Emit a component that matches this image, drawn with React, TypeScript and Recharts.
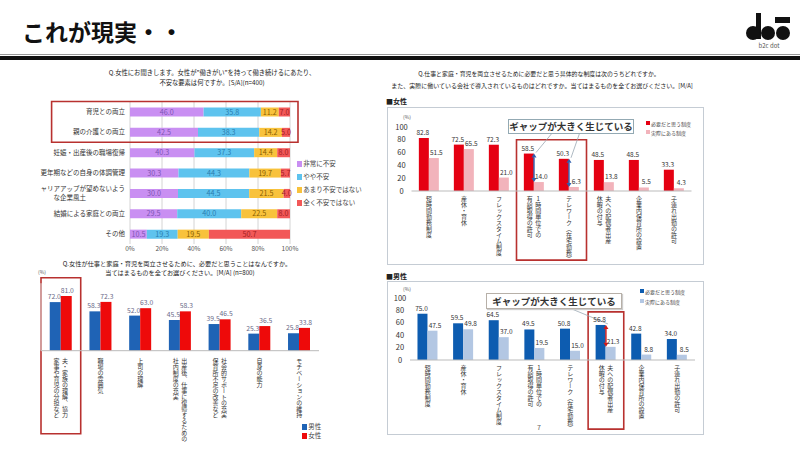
import React from "react";
import {
  BarChart,
  Bar,
  XAxis,
  YAxis,
  CartesianGrid,
  LabelList,
  ReferenceArea,
  ReferenceLine,
} from "recharts";

const FONT = '"Noto Sans CJK JP", "Noto Sans", sans-serif';

// top left: worries about continuing to work
const worryItems = [
  "育児との両立",
  "親の介護との両立",
  "妊娠・出産後の職場復帰",
  "更年期などの自身の体調管理",
  "女性のキャリアアップが望めないよう\nな企業風土",
  "結婚による家庭との両立",
  "その他",
];
const veryWorried = [46.0, 42.5, 40.3, 30.3, 30.0, 29.5, 10.5];
const somewhatWorried = [35.8, 38.3, 37.3, 44.3, 44.5, 40.0, 19.3];
const notVeryWorried = [11.2, 14.2, 14.4, 19.7, 21.5, 22.5, 19.5];
const notWorried = [7.0, 5.0, 8.0, 5.7, 4.0, 8.0, 50.7];
const worryLevels = ["非常に不安", "やや不安", "あまり不安ではない", "全く不安ではない"];
const pctTicks = [0, 20, 40, 60, 80, 100];

// bottom left: what is needed
const needItems = [
  "夫・家族の理解、協力\n家事や育児の分担など",
  "職場の雰囲気",
  "上司の理解",
  "出産後、仕事に復帰するための\n社内制度の充実",
  "社会的サポートの充実\n保育所不足の改善など",
  "自身の能力",
  "モチベーションの維持",
];
const needMale = [72.0, 58.3, 52.0, 45.5, 39.5, 25.3, 25.8];
const needFemale = [81.0, 72.3, 63.0, 58.3, 46.5, 36.5, 33.8];
const genders = ["男性", "女性"];

// right: systems wanted vs. actually available
const systems = [
  "短時間勤務制度",
  "産休・育休",
  "フレックスタイム制度",
  "1時間単位での\n有給取得の許可",
  "テレワーク（在宅勤務）",
  "夫への配偶者出産\n休暇の付与",
  "企業内保育所の設置",
  "子連れ出勤の許可",
];
const femaleNeeded = [82.8, 72.5, 72.3, 58.5, 50.3, 48.5, 48.5, 33.3];
const femaleActual = [51.5, 65.5, 21.0, 14.0, 6.3, 13.8, 5.5, 4.3];
const maleNeeded = [75.0, 59.5, 64.5, 49.5, 50.8, 56.8, 42.8, 34.0];
const maleActual = [47.5, 49.8, 37.0, 19.5, 15.0, 21.3, 8.8, 8.5];
const systemSeries = ["必要だと思う制度", "実際にある制度"];
const gapText = "ギャップが大きく生じている";

const fmt = (v: any) => Number(v).toFixed(1);

const RowTick = (p: any) => {
  const { x, y, payload } = p;
  const fs = 6.5;
  const lines = String(payload.value).split("\n");
  if (lines.length === 1) {
    return (
      <text x={x} y={y} dy={fs * 0.35} textAnchor="end" fontSize={fs} fill="#333" fontFamily={FONT}>
        {lines[0]}
      </text>
    );
  }
  const w = Math.max(...lines.map((l) => l.length)) * fs;
  return (
    <g>
      {lines.map((l, i) => (
        <text
          key={i}
          x={x - w / 2}
          y={y + (i - (lines.length - 1) / 2) * 9}
          dy={fs * 0.35}
          textAnchor="middle"
          fontSize={fs}
          fill="#333"
          fontFamily={FONT}
        >
          {l}
        </text>
      ))}
    </g>
  );
};

const VTick = (p: any) => {
  const { x, y, payload } = p;
  const lines = String(payload.value).split("\n");
  const col = 8.5;
  return (
    <g>
      {lines.map((l, i) => (
        <text
          key={i}
          x={x + ((lines.length - 1) / 2 - i) * col}
          y={y}
          fontSize={6}
          fill="#333"
          fontFamily={FONT}
          style={{ writingMode: "vertical-rl", textOrientation: "upright" } as any}
        >
          {l}
        </text>
      ))}
    </g>
  );
};

const NumTick = (p: any) => (
  <text x={p.x - 2} y={p.y} dy={2.5} textAnchor="middle" fontSize={7.5} fill="#333" fontFamily={FONT}>
    {p.payload.value}
  </text>
);

// value label above a bar, nudged sideways so neighbours do not collide
const topLabel = (shift: number, color = "#333", size = 6.5) => (p: any) => {
  const { x, y, width, value } = p;
  return (
    <text x={x + width / 2 + shift} y={y - 3} textAnchor="middle" fontSize={size} fill={color} fontFamily={FONT}>
      {fmt(value)}
    </text>
  );
};

// double headed arrow between two values, optional connector from the callout
const gapArrow = (color: string, anchor?: [number, number]) => (p: any) => {
  const { x1, y1, x2, y2 } = p;
  const h = 4;
  return (
    <g>
      {anchor && (
        <line x1={anchor[0]} y1={anchor[1]} x2={x1 + 2} y2={y1 - 1} stroke="#9aa8b4" strokeWidth={0.8} />
      )}
      <line x1={x1} y1={y1 + h} x2={x2} y2={y2 - h} stroke={color} strokeWidth={1.4} />
      <polygon points={`${x1 - 2.5},${y1 + h} ${x1 + 2.5},${y1 + h} ${x1},${y1}`} fill={color} />
      <polygon points={`${x2 - 2.5},${y2 - h} ${x2 + 2.5},${y2 - h} ${x2},${y2}`} fill={color} />
    </g>
  );
};

const Txt = ({ x, y, size = 6.5, center = false, weight = 400, color = "#222", children }: any) => (
  <div
    style={{
      position: "absolute",
      left: x,
      top: y - size * 0.7,
      fontSize: size,
      lineHeight: `${size * 1.4}px`,
      fontWeight: weight,
      color,
      whiteSpace: "nowrap",
      transform: center ? "translateX(-50%)" : undefined,
    }}
  >
    {children}
  </div>
);

const Key = ({ x, y, color, label, size = 6 }: any) => (
  <div
    style={{
      position: "absolute",
      left: x,
      top: y - size * 0.7,
      fontSize: size,
      lineHeight: `${size * 1.4}px`,
      color: "#444",
      whiteSpace: "nowrap",
      display: "flex",
      alignItems: "center",
    }}
  >
    <span style={{ display: "inline-block", width: size * 0.8, height: size * 0.8, background: color, marginRight: 1 }} />
    {label}
  </div>
);

const redBox = { fill: "none", stroke: "#b8312f", strokeWidth: 1.6, fillOpacity: 0 };

export default function App() {
  const worryData = worryItems.map((name, i) => ({
    name,
    a: veryWorried[i],
    b: somewhatWorried[i],
    c: notVeryWorried[i],
    d: notWorried[i],
  }));
  const needData = needItems.map((name, i) => ({ name, m: needMale[i], f: needFemale[i] }));
  const femaleData = systems.map((name, i) => ({ name, need: femaleNeeded[i], actual: femaleActual[i] }));
  const maleData = systems.map((name, i) => ({ name, need: maleNeeded[i], actual: maleActual[i] }));

  const worryColors = ["#c98ff2", "#5ec3ee", "#f8c23c", "#f25858"];
  const worryLabel = ["#7d55b5", "#2a7eb0", "#8a5e00", "#a52020"];

  return (
    <div
      style={{
        position: "absolute",
        left: 0,
        top: 0,
        width: 800,
        height: 450,
        background: "#fff",
        fontFamily: FONT,
        overflow: "hidden",
      }}
    >
      {/* header */}
      <div style={{ position: "absolute", left: 22, top: 16, fontSize: 23, fontWeight: 700, color: "#111", lineHeight: "30px" }}>
        これが現実・・
      </div>
      <svg style={{ position: "absolute", left: 742, top: 8 }} width={52} height={44}>
        <rect x={14} y={5} width={5} height={26} fill="#111" />
        <circle cx={11} cy={25} r={7} fill="#111" />
        <circle cx={26} cy={25} r={7} fill="#111" />
        <rect x={33} y={9} width={15} height={6} fill="#111" />
        <circle cx={41} cy={25} r={7} fill="#111" />
        <text x={27} y={40} fontSize={6} textAnchor="middle" fill="#555" fontFamily={FONT}>
          b2c dot
        </text>
      </svg>
      <div style={{ position: "absolute", left: 0, top: 54, width: 800, height: 1, background: "#999" }} />
      <div style={{ position: "absolute", left: 0, top: 56, width: 800, height: 4, background: "#111" }} />

      {/* top left */}
      <Txt x={212} y={73} center size={6.3}>Q.女性にお聞きします。女性が”働きがい”を持って働き続けるにあたり、</Txt>
      <Txt x={212} y={83} center size={6.3}>不安な要素は何ですか。[S/A](n=400)</Txt>
      <div style={{ position: "absolute", left: 40, top: 95 }}>
        <BarChart
          layout="vertical"
          width={300}
          height={165}
          data={worryData}
          margin={{ top: 6.5, right: 50, bottom: 2, left: 0 }}
          barSize={9}
        >
          <CartesianGrid horizontal={false} stroke="#d4d4d4" />
          <XAxis
            type="number"
            domain={[0, 100]}
            ticks={pctTicks}
            interval={0}
            tickFormatter={(v) => `${v}%`}
            axisLine={false}
            tickLine={false}
            tickSize={0}
            tickMargin={2}
            height={14}
            tick={{ fontSize: 6.5, fill: "#555", fontFamily: FONT }}
          />
          <YAxis
            type="category"
            dataKey="name"
            width={90}
            axisLine={false}
            tickLine={false}
            tickSize={0}
            tickMargin={5}
            tick={RowTick}
            interval={0}
          />
          {(["a", "b", "c", "d"] as const).map((k, i) => (
            <Bar key={k} dataKey={k} stackId="s" fill={worryColors[i]} isAnimationActive={false}>
              <LabelList dataKey={k} position="center" formatter={fmt} fontSize={7.2} fill={worryLabel[i]} fontFamily={FONT} />
            </Bar>
          ))}
          <ReferenceArea
            y1={worryItems[0]}
            y2={worryItems[1]}
            x1={-49}
            x2={105}
            ifOverflow="visible"
            {...redBox}
          />
        </BarChart>
      </div>
      {worryLevels.map((l, i) => (
        <Key key={l} x={297} y={164 + i * 13} color={worryColors[i]} label={l} size={6.5} />
      ))}

      {/* bottom left */}
      <Txt x={177} y={264} center size={6.2}>Q.女性が仕事と家庭・育児を両立させるために、必要だと思うことはなんですか。</Txt>
      <Txt x={180} y={273} center size={6.2}>当てはまるものを全てお選びください。[M/A] (n=800)</Txt>
      <Txt x={38} y={271} size={5} color="#555">(%)</Txt>
      <div style={{ position: "absolute", left: 36, top: 270 }}>
        <BarChart
          width={300}
          height={175}
          data={needData}
          margin={{ top: 13.2, right: 17, bottom: 0, left: 0 }}
          barCategoryGap="22%"
          barGap={0}
        >
          <XAxis
            dataKey="name"
            axisLine={{ stroke: "#bbb" }}
            tickLine={false}
            tickSize={0}
            tickMargin={7}
            height={94.3}
            interval={0}
            tick={VTick}
          />
          <YAxis domain={[0, 100]} width={5} tick={false} tickLine={false} axisLine={{ stroke: "#ddd" }} />
          <Bar dataKey="m" fill="#1f63b5" isAnimationActive={false}>
            <LabelList dataKey="m" content={topLabel(-1, "#6a6a88", 6.8)} />
          </Bar>
          <Bar dataKey="f" fill="#ee0a0a" isAnimationActive={false}>
            <LabelList dataKey="f" content={topLabel(1, "#6a6a88", 6.8)} />
          </Bar>
          <ReferenceArea x1={needItems[0]} x2={needItems[0]} y1={-123} y2={108} ifOverflow="visible" {...redBox} />
        </BarChart>
      </div>
      <Key x={302} y={427} color="#1f63b5" label={genders[0]} size={6.5} />
      <Key x={302} y={436} color="#ee0a0a" label={genders[1]} size={6.5} />

      {/* top right: women */}
      <Txt x={539} y={74} center size={5.9}>Q.仕事と家庭・育児を両立させるために必要だと思う具体的な制度は次のうちどれですか。</Txt>
      <Txt x={542} y={86} center size={6}>また、実際に働いている会社で導入されているものはどれですか。当てはまるものを全てお選びください。[M/A]</Txt>
      <Txt x={386} y={102} size={7} weight={700}>■女性</Txt>
      <div style={{ position: "absolute", left: 387, top: 107, width: 315, height: 156, border: "1px solid #c5ccd4" }} />
      <Txt x={403} y={116} size={5} color="#555">(%)</Txt>
      <div style={{ position: "absolute", left: 385, top: 112 }}>
        <BarChart
          width={315}
          height={150}
          data={femaleData}
          margin={{ top: 15, right: 8.5, bottom: 0, left: 0 }}
          barCategoryGap="21%"
          barGap={0}
        >
          <XAxis
            dataKey="name"
            axisLine={{ stroke: "#bbb" }}
            tickLine={false}
            tickSize={0}
            tickMargin={5}
            height={71}
            interval={0}
            tick={VTick}
          />
          <YAxis domain={[0, 100]} ticks={pctTicks} interval={0} width={26.5} axisLine={false} tickLine={false} tick={NumTick} />
          <Bar dataKey="need" fill="#e50012" isAnimationActive={false}>
            <LabelList dataKey="need" content={topLabel(-1)} />
          </Bar>
          <Bar dataKey="actual" fill="#f2b3bb" isAnimationActive={false}>
            <LabelList dataKey="actual" content={topLabel(2.5)} />
          </Bar>
          <ReferenceArea x1={systems[3]} x2={systems[4]} y1={-108} y2={80} ifOverflow="visible" {...redBox} />
          <ReferenceLine
            segment={[
              { x: systems[3], y: femaleNeeded[3] },
              { x: systems[3], y: femaleActual[3] },
            ]}
            shape={gapArrow("#2f5fae", [168, 20])}
          />
          <ReferenceLine
            segment={[
              { x: systems[4], y: femaleNeeded[4] },
              { x: systems[4], y: femaleActual[4] },
            ]}
            shape={gapArrow("#2f5fae", [195, 20])}
          />
        </BarChart>
      </div>
      <div
        style={{
          position: "absolute",
          left: 508,
          top: 119,
          width: 124,
          height: 13,
          border: "1px solid #93a9b3",
          background: "#fff",
          fontSize: 9.5,
          fontWeight: 700,
          color: "#333",
          lineHeight: "13px",
          textAlign: "center",
        }}
      >
        {gapText}
      </div>
      <Key x={646} y={123} color="#e50012" label={systemSeries[0]} size={5} />
      <Key x={646} y={132} color="#f2b3bb" label={systemSeries[1]} size={5} />

      {/* bottom right: men */}
      <Txt x={386} y={277} size={7} weight={700}>■男性</Txt>
      <div style={{ position: "absolute", left: 387, top: 281, width: 315, height: 152, border: "1px solid #c5ccd4" }} />
      <Txt x={403} y={288} size={5} color="#555">(%)</Txt>
      <div style={{ position: "absolute", left: 385, top: 284 }}>
        <BarChart
          width={315}
          height={150}
          data={maleData}
          margin={{ top: 14.3, right: 5, bottom: 0, left: 0 }}
          barCategoryGap="21%"
          barGap={0}
        >
          <XAxis
            dataKey="name"
            axisLine={{ stroke: "#bbb" }}
            tickLine={false}
            tickSize={0}
            tickMargin={5}
            height={74}
            interval={0}
            tick={VTick}
          />
          <YAxis domain={[0, 100]} ticks={pctTicks} interval={0} width={25} axisLine={false} tickLine={false} tick={NumTick} />
          <Bar dataKey="need" fill="#0d5cb0" isAnimationActive={false}>
            <LabelList dataKey="need" content={topLabel(-1)} />
          </Bar>
          <Bar dataKey="actual" fill="#b3c7e3" isAnimationActive={false}>
            <LabelList dataKey="actual" content={topLabel(2.5)} />
          </Bar>
          <ReferenceArea x1={systems[5]} x2={systems[5]} y1={-112} y2={78} ifOverflow="visible" {...redBox} />
          <ReferenceLine
            segment={[
              { x: systems[5], y: maleNeeded[5] },
              { x: systems[5], y: maleActual[5] },
            ]}
            shape={gapArrow("#d01818", [182, 23])}
          />
        </BarChart>
      </div>
      <div
        style={{
          position: "absolute",
          left: 486,
          top: 293,
          width: 134,
          height: 14,
          border: "1px solid #b7b0a8",
          background: "#fff",
          boxShadow: "1px 1px 1px #ccc",
          fontSize: 9.5,
          fontWeight: 700,
          color: "#333",
          lineHeight: "14px",
          textAlign: "center",
        }}
      >
        {gapText}
      </div>
      <Key x={640} y={291} color="#0d5cb0" label={systemSeries[0]} size={5} />
      <Key x={640} y={301} color="#b3c7e3" label={systemSeries[1]} size={5} />
      <Txt x={537} y={428} size={7} color="#666">7</Txt>
    </div>
  );
}
